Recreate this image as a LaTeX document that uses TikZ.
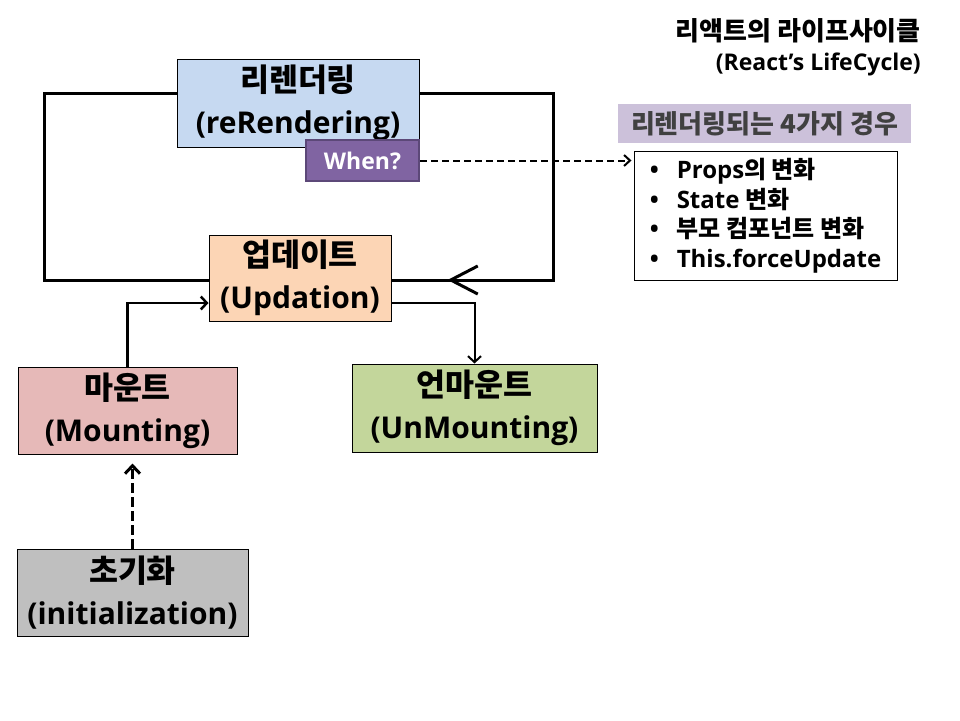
\documentclass[tikz,border=0pt]{standalone}
\usepackage{fontspec}
\setmainfont{Open Sans}
\newfontfamily\kr{Noto Sans CJK KR}
\usetikzlibrary{arrows.meta,decorations.markings}
\definecolor{cRR}{HTML}{C6D9F1}
\definecolor{cWhen}{HTML}{8064A2}
\definecolor{cWhenB}{HTML}{5C4878}
\definecolor{cUp}{HTML}{FCD5B5}
\definecolor{cMo}{HTML}{E6B9B8}
\definecolor{cUm}{HTML}{C3D69B}
\definecolor{cIn}{HTML}{BFBFBF}
\definecolor{cHd}{HTML}{CCC1DA}
\definecolor{cHdT}{HTML}{404040}
\newcommand\ko[1]{{\kr\fontsize{31.5}{42}\selectfont #1}}
\newcommand\kos[1]{{\kr #1}}
\tikzset{
  stage/.style={draw=black, line width=1pt, inner sep=0pt, align=center,
    font=\bfseries\fontsize{30}{42}\selectfont},
  loopline/.style={line width=3pt, line join=miter},
  conn/.style={line width=2.5pt, -{Straight Barb[length=6pt,width=13pt,line width=2.5pt]}},
  dconn/.style={line width=3pt, dash pattern=on 10pt off 4pt,
    -{Straight Barb[length=8pt,width=15pt,line width=3pt]}},
}
\begin{document}
\begin{tikzpicture}[x=1pt,y=-1pt]
\useasboundingbox (0,0) rectangle (960,720);
\fill[white] (0,0) rectangle (960,720);

\coordinate (tl) at (44,93);
\coordinate (tr) at (553,93);
\coordinate (br) at (553,280);
\coordinate (bl) at (44,280);

% nodes
\node[stage, fill=cRR, minimum width=242pt, minimum height=88pt] (rr) at (298,103) {\ko{리렌더링}\\(reRendering)};
\node[stage, fill=cUp, minimum width=182pt, minimum height=86pt] (up) at (300,278) {\ko{업데이트}\\(Updation)};
\node[stage, fill=cMo, minimum width=219pt, minimum height=87pt] (mo) at (127.5,410.5) {\ko{마운트}\\(Mounting)};
\node[stage, fill=cUm, minimum width=245pt, minimum height=88pt] (um) at (474.5,408) {\ko{언마운트}\\(UnMounting)};
\node[stage, fill=cIn, minimum width=231pt, minimum height=87pt] (in) at (132.5,592.5) {\ko{초기화}\\(initialization)};

% loop
\draw[loopline] (rr.west |- tl) -- (tl) -- (bl) -- (up.west |- bl);
\draw[loopline, postaction={decorate}, decoration={markings,
  mark=at position -56pt with {\arrow{Straight Barb[length=27pt,width=28pt,line width=3pt]}}}]
  (rr.east |- tr) -- (tr) -- (br) -- (up.east |- br);

\node[draw=cWhenB, line width=2pt, fill=cWhen, text=white, inner sep=0pt,
  minimum width=113pt, minimum height=41pt, font=\bfseries\fontsize{23}{27}\selectfont] (wh) at (362.5,160.5) {When?};

% header, list, title
\node[fill=cHd, text=cHdT, inner sep=0pt, minimum width=293pt, minimum height=39pt,
  font=\bfseries\fontsize{26}{30}\selectfont] (hd) at (764.5,123.5) {\kos{리렌더링되는 4가지 경우}};
\node[draw=black, line width=1pt, fill=white, inner sep=0pt, minimum width=263pt, minimum height=129pt,
  align=left, font=\bfseries\fontsize{24}{29.5}\selectfont] (li) at (765.5,215.5)
  {\makebox[27pt][l]{•}Props\kos{의 변화}\\
   \makebox[27pt][l]{•}State \kos{변화}\\
   \makebox[27pt][l]{•}\kos{부모 컴포넌트 변화}\\
   \makebox[27pt][l]{•}This.forceUpdate};
\node[anchor=east, align=right, inner sep=0pt, font=\bfseries\fontsize{23}{30}\selectfont] (ti) at (921,47)
  {\kos{\fontsize{26}{30}\selectfont 리액트의 라이프사이클}\\(React’s LifeCycle)};

% connectors
\draw[conn] (mo.north) |- ([yshift=-25pt]up.west);
\draw[line width=2pt, -{Straight Barb[length=6pt,width=13pt,line width=2pt]}] ([yshift=-25pt]up.east) -| (um.north);
\draw[dconn, shorten >=9pt] (in.north) -- (in.north |- mo.south);
\draw[line width=2pt, dash pattern=on 7pt off 4pt, shorten >=2pt,
  -{Straight Barb[length=6pt,width=11pt,line width=2pt]}] (wh.east) -- (wh.east -| li.west);
\end{tikzpicture}
\end{document}
